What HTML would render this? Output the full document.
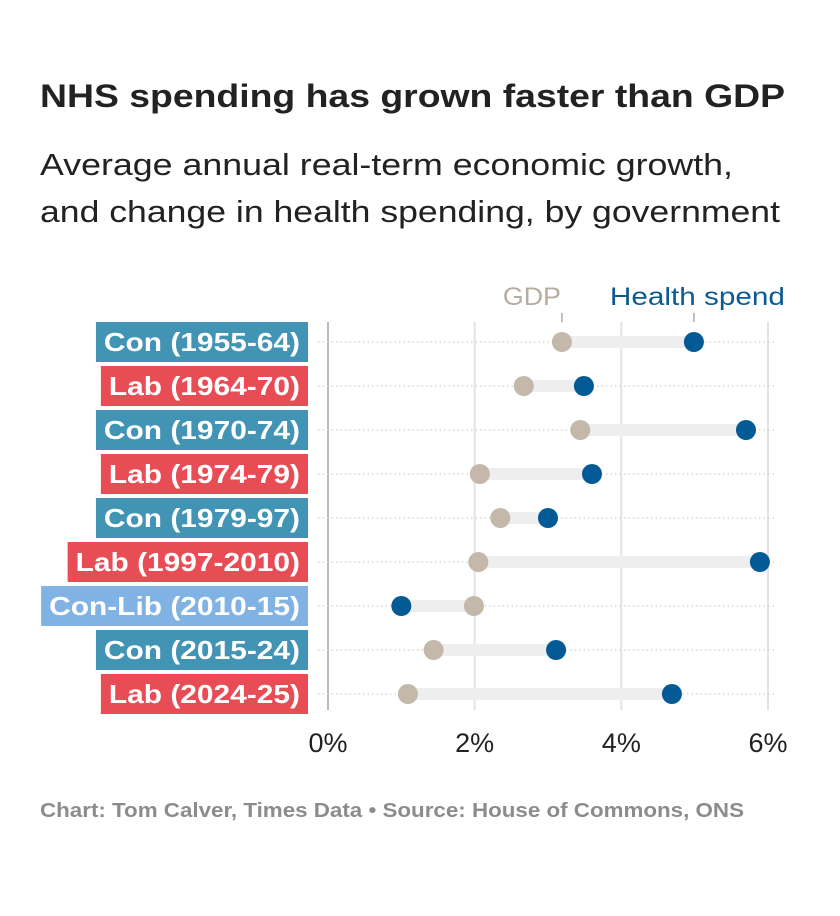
<!DOCTYPE html>
<html><head><meta charset="utf-8">
<style>
html,body{margin:0;padding:0;background:#fff;}
svg{display:block;font-family:"Liberation Sans",sans-serif;}
</style></head>
<body>
<svg id="chart" width="840" height="916" viewBox="0 0 840 916" xmlns="http://www.w3.org/2000/svg">
<rect width="840" height="916" fill="#fff"/>
<text x="40" y="107" font-size="32" font-weight="bold" fill="#222" textLength="745" lengthAdjust="spacingAndGlyphs">NHS spending has grown faster than GDP</text>
<text x="40" y="175" font-size="31" fill="#222" textLength="693" lengthAdjust="spacingAndGlyphs">Average annual real-term economic growth,</text>
<text x="40" y="222" font-size="31" fill="#222" textLength="740" lengthAdjust="spacingAndGlyphs">and change in health spending, by government</text>
<g id="grid"></g>
<g id="rows"></g>
<g id="legend"></g>
<g id="xaxis"></g>
<text x="40" y="817" font-size="20" font-weight="bold" fill="#8c8c8c" textLength="704" lengthAdjust="spacingAndGlyphs">Chart: Tom Calver, Times Data • Source: House of Commons, ONS</text>
</svg>
<script>
const categories = ["Con (1955-64)","Lab (1964-70)","Con (1970-74)","Lab (1974-79)","Con (1979-97)","Lab (1997-2010)","Con-Lib (2010-15)","Con (2015-24)","Lab (2024-25)"];
const parties = ["con","lab","con","lab","con","lab","conlib","con","lab"];
const gdpValues = [3.19,2.67,3.44,2.07,2.35,2.05,1.99,1.44,1.09];
const healthValues = [4.99,3.49,5.70,3.60,3.00,5.89,1.00,3.11,4.69];
const xTicks = [0,2,4,6];
const xTickLabels = ["0%","2%","4%","6%"];

const NS = "http://www.w3.org/2000/svg";
const partyColor = {con:"#4294b4", lab:"#e84c55", conlib:"#80b2e3"};
const x0 = 328, pxPer = 73.33;
function xScale(v){ return x0 + v*pxPer; }
function yScale(i){ return 342 + i*44; }
function mk(tag, attrs, parent){
  const e = document.createElementNS(NS, tag);
  for (const k in attrs) e.setAttribute(k, attrs[k]);
  parent.appendChild(e);
  return e;
}
const grid = document.getElementById('grid');
const rows = document.getElementById('rows');
const legend = document.getElementById('legend');
const xaxis = document.getElementById('xaxis');

xTicks.forEach((t,i)=>{
  const l = mk('line',{x1:xScale(t),x2:xScale(t),y1:322,y2:710,stroke:i===0?'#bbb':'#e2e2e2','stroke-width':2},grid);
  
  
  const tx = mk('text',{x:xScale(t),y:752,'font-size':27,fill:'#222','text-anchor':'middle'},xaxis);
  tx.textContent = xTickLabels[i];
  
  
});

categories.forEach((c,i)=>{
  const y = yScale(i);
  const dl = mk('line',{x1:318,x2:776,y1:y,y2:y,stroke:'#cfcfcf','stroke-width':1.2,'stroke-dasharray':'1.5 3'},rows);
  
  
  const g = mk('g',{},rows);
  
  
  const bg = mk('rect',{x:0,y:y-20,width:10,height:40,fill:partyColor[parties[i]]},g);
  
  
  const t = mk('text',{x:300,y:y+9,'font-size':26,'font-weight':'bold',fill:'#fff','text-anchor':'end'},g);
  t.textContent = c;
  
  
  const w0 = t.getComputedTextLength();
  const w = w0 * 1.15;
  t.setAttribute('textLength', w);
  t.setAttribute('lengthAdjust', 'spacingAndGlyphs');
  bg.setAttribute('x', 308 - w - 16);
  bg.setAttribute('width', w + 16);

  const a = Math.min(gdpValues[i],healthValues[i]), b = Math.max(gdpValues[i],healthValues[i]);
  const bar = mk('rect',{x:xScale(a),y:y-6,width:xScale(b)-xScale(a),height:12,fill:'#eeeeee'},rows);
  
  
  const gd = mk('circle',{cx:xScale(gdpValues[i]),cy:y,r:10,fill:'#c4b8ab'},rows);
  
  
  const hd = mk('circle',{cx:xScale(healthValues[i]),cy:y,r:10,fill:'#045a94'},rows);
  
  
});

const gx = xScale(gdpValues[0]), hx = xScale(healthValues[0]);
const lg1 = mk('text',{x:gx-30,y:305,'font-size':25,fill:'#b9ac9f','text-anchor':'middle',textLength:58,lengthAdjust:'spacingAndGlyphs'},legend);
lg1.textContent = 'GDP';


const lt1 = mk('line',{x1:gx,x2:gx,y1:313,y2:322,stroke:'#aaa','stroke-width':1.5},legend);


const lg2 = mk('text',{x:hx-84,y:305,'font-size':25,fill:'#0b5a91',textLength:175,lengthAdjust:'spacingAndGlyphs'},legend);
lg2.textContent = 'Health spend';


const lt2 = mk('line',{x1:hx,x2:hx,y1:313,y2:322,stroke:'#aaa','stroke-width':1.5},legend);


</script>
</body></html>
